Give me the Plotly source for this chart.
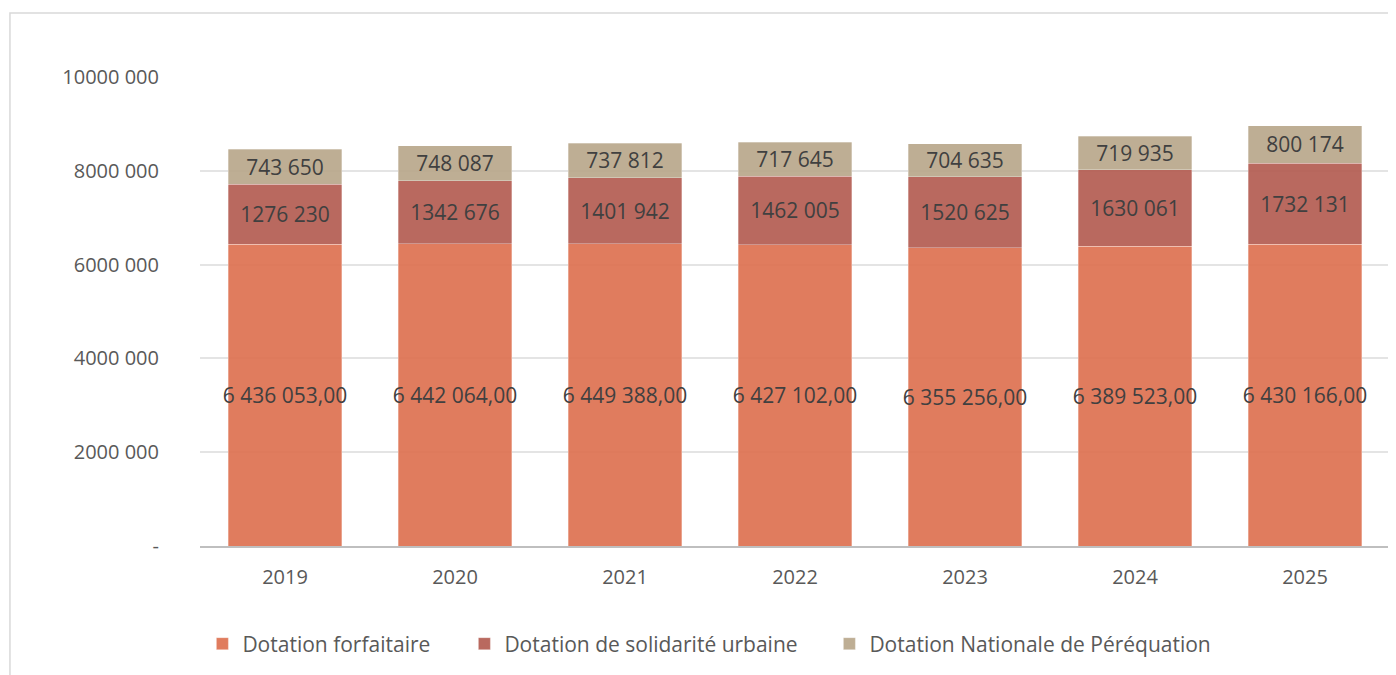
import plotly.graph_objects as go

years = ["2019", "2020", "2021", "2022", "2023", "2024", "2025"]
forfaitaire = [6436053, 6442064, 6449388, 6427102, 6355256, 6389523, 6430166]
solidarite = [1276230, 1342676, 1401942, 1462005, 1520625, 1630061, 1732131]
perequation = [743650, 748087, 737812, 717645, 704635, 719935, 800174]

y_ticks = [0, 2000000, 4000000, 6000000, 8000000, 10000000]
y_ticktext = ["-", "2000 000", "4000 000", "6000 000", "8000 000", "10000 000"]

TEXT = "#404040"
AXIS_TEXT = "#595959"
FONT = "Open Sans, Liberation Sans, sans-serif"


def fr_int(v):
    # Excel-like "1276 230": only the last group is separated
    s = f"{v:d}"
    return s[:-3] + " " + s[-3:]


def fr_dec(v):
    return f"{v:,.2f}".replace(",", " ").replace(".", ",")


series = [
    ("Dotation forfaitaire", forfaitaire, [fr_dec(v) for v in forfaitaire], "rgba(221,110,76,0.9)", 217),
    ("Dotation de solidarité urbaine", solidarite, [fr_int(v) for v in solidarite], "rgba(177,89,78,0.9)", 320),
    ("Dotation Nationale de Péréquation", perequation, [fr_int(v) for v in perequation], "rgba(183,165,136,0.9)", 340),
]

fig = go.Figure()
for name, vals, labels, color, lw in series:
    fig.add_trace(go.Bar(
        x=years, y=vals, name=name, text=labels,
        textposition="inside", insidetextanchor="middle", textangle=0,
        constraintext="none", cliponaxis=False,
        textfont=dict(size=21, color=TEXT, family=FONT),
        marker=dict(color=color, line=dict(width=0.6, color="rgba(255,255,255,0.5)")),
        legendwidth=lw,
        hovertemplate="%{x}: %{y:,}<extra>" + name + "</extra>",
    ))

# page body has an 8px margin, so the figure is shifted accordingly
fig.update_layout(
    barmode="stack",
    bargap=0.33,
    width=1396, height=675,
    paper_bgcolor="white", plot_bgcolor="white",
    font=dict(family=FONT, color=AXIS_TEXT, size=20),
    margin=dict(l=192, r=14, t=69, b=137),
    showlegend=True,
    legend=dict(
        orientation="h", x=0.002, xanchor="left", y=-0.209, yanchor="middle",
        font=dict(size=21, color=AXIS_TEXT), traceorder="normal",
    ),
    shapes=[dict(
        type="rect", xref="paper", yref="paper",
        x0=-0.1597, x1=1.05, y0=-0.5, y1=1.1365,
        line=dict(color="#D9D9D9", width=1.5), fillcolor="rgba(0,0,0,0)", layer="below",
    )],
)

fig.update_xaxes(
    showgrid=False, showline=True, linecolor="#BFBFBF", linewidth=2,
    ticks="", tickfont=dict(size=20, color=AXIS_TEXT), ticklabelstandoff=12,
)
fig.update_yaxes(
    range=[0, 10000000], tickvals=y_ticks, ticktext=y_ticktext,
    showgrid=True, gridcolor="#E4E4E4", gridwidth=1.5, zeroline=False,
    showline=False, ticks="", tickfont=dict(size=20, color=AXIS_TEXT),
    ticklabelstandoff=40,
)

fig.write_html("out.html")
